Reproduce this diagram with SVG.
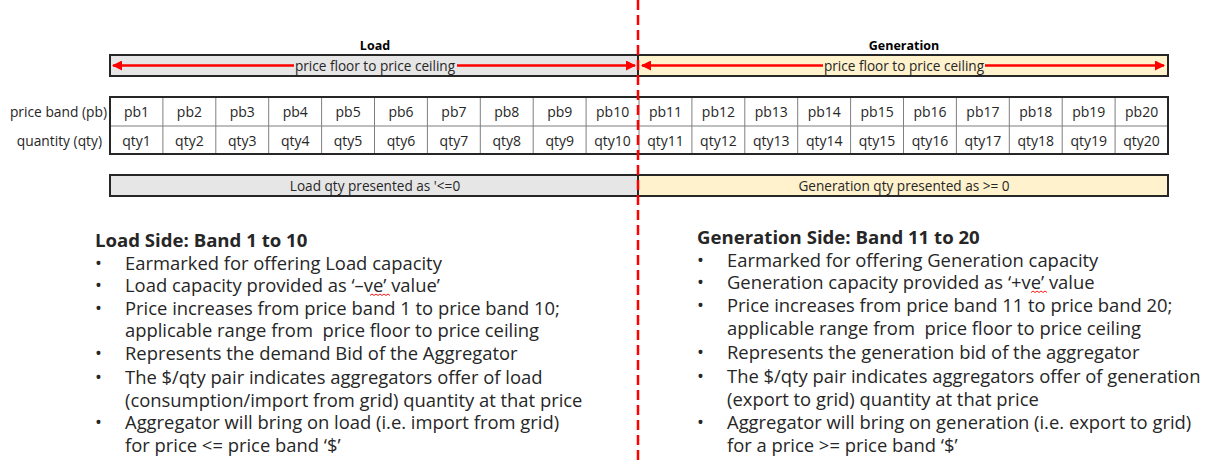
<svg xmlns="http://www.w3.org/2000/svg" width="1210" height="463" viewBox="0 0 1210 463">
<style>
text{font-family:"Open Sans","Noto Sans","DejaVu Sans",sans-serif;fill:#262626;white-space:pre}
.ttl{font-size:12.5px;font-weight:bold;text-anchor:middle;fill:#000}
.cell{font-size:14px;text-anchor:middle}
.rowl{font-size:13.8px;text-anchor:end}
.barl{font-size:13.6px;text-anchor:middle}
.bar{stroke:#262626;stroke-width:2}
.load{fill:#e7e6e6}
.gen{fill:#fff2cc}
.arr{stroke:#ff0000;stroke-width:2.5;fill:none}
.grid{stroke:#7f7f7f;stroke-width:1}
.hd{font-size:18.6px;font-weight:bold}
.bt{font-size:18.4px}
.sq{stroke:#ff0000;stroke-width:0.9;fill:none}
</style>
<defs>
<marker id="ah" viewBox="0 0 10 10" refX="9" refY="5" markerWidth="4" markerHeight="4" orient="auto-start-reverse">
<path d="M0,0 L10,5 L0,10 z" fill="#ff0000"/>
</marker>
</defs>

<g id="load-header">
<text class="ttl" x="375" y="50">Load</text>
<rect class="bar load" x="110" y="55" width="528" height="21"/>
<text class="barl" x="375" y="70.5">price floor to price ceiling</text>
</g>
<g id="gen-header">
<text class="ttl" x="904" y="50">Generation</text>
<rect class="bar gen" x="638" y="55" width="530" height="21"/>
<text class="barl" x="904" y="70.5">price floor to price ceiling</text>
</g>

<g id="connectors">
<line class="arr" x1="294" y1="65.5" x2="113" y2="65.5" marker-end="url(#ah)"/>
<line class="arr" x1="457" y1="65.5" x2="635" y2="65.5" marker-end="url(#ah)"/>
<line class="arr" x1="823" y1="65.5" x2="642" y2="65.5" marker-end="url(#ah)"/>
<line class="arr" x1="985" y1="65.5" x2="1164" y2="65.5" marker-end="url(#ah)"/>
</g>

<g id="row-labels">
<text class="rowl" x="107" y="117">price band (pb)</text>
<text class="rowl" x="102" y="146">quantity (qty)</text>
</g>

<g id="table">
<rect x="110" y="97" width="1058" height="57" fill="#fff"/>
<g class="grid">
<line x1="110" y1="126" x2="1168" y2="126"/>
<line x1="162.9" y1="97" x2="162.9" y2="154"/>
<line x1="215.8" y1="97" x2="215.8" y2="154"/>
<line x1="268.7" y1="97" x2="268.7" y2="154"/>
<line x1="321.6" y1="97" x2="321.6" y2="154"/>
<line x1="374.5" y1="97" x2="374.5" y2="154"/>
<line x1="427.4" y1="97" x2="427.4" y2="154"/>
<line x1="480.3" y1="97" x2="480.3" y2="154"/>
<line x1="533.2" y1="97" x2="533.2" y2="154"/>
<line x1="586.1" y1="97" x2="586.1" y2="154"/>
<line x1="639" y1="97" x2="639" y2="154"/>
<line x1="691.9" y1="97" x2="691.9" y2="154"/>
<line x1="744.8" y1="97" x2="744.8" y2="154"/>
<line x1="797.7" y1="97" x2="797.7" y2="154"/>
<line x1="850.6" y1="97" x2="850.6" y2="154"/>
<line x1="903.5" y1="97" x2="903.5" y2="154"/>
<line x1="956.4" y1="97" x2="956.4" y2="154"/>
<line x1="1009.3" y1="97" x2="1009.3" y2="154"/>
<line x1="1062.2" y1="97" x2="1062.2" y2="154"/>
<line x1="1115.1" y1="97" x2="1115.1" y2="154"/>
</g>
<rect x="110" y="97" width="1058" height="57" fill="none" stroke="#262626" stroke-width="2"/>
<g class="cell">
<text x="136.5" y="117">pb1</text><text x="189.4" y="117">pb2</text><text x="242.3" y="117">pb3</text><text x="295.2" y="117">pb4</text><text x="348.1" y="117">pb5</text><text x="401" y="117">pb6</text><text x="453.9" y="117">pb7</text><text x="506.8" y="117">pb8</text><text x="559.7" y="117">pb9</text><text x="612.6" y="117">pb10</text>
<text x="665.5" y="117">pb11</text><text x="718.4" y="117">pb12</text><text x="771.3" y="117">pb13</text><text x="824.2" y="117">pb14</text><text x="877.1" y="117">pb15</text><text x="930" y="117">pb16</text><text x="982.9" y="117">pb17</text><text x="1035.8" y="117">pb18</text><text x="1088.7" y="117">pb19</text><text x="1141.6" y="117">pb20</text>
<text x="136.5" y="146">qty1</text><text x="189.4" y="146">qty2</text><text x="242.3" y="146">qty3</text><text x="295.2" y="146">qty4</text><text x="348.1" y="146">qty5</text><text x="401" y="146">qty6</text><text x="453.9" y="146">qty7</text><text x="506.8" y="146">qty8</text><text x="559.7" y="146">qty9</text><text x="612.6" y="146">qty10</text>
<text x="665.5" y="146">qty11</text><text x="718.4" y="146">qty12</text><text x="771.3" y="146">qty13</text><text x="824.2" y="146">qty14</text><text x="877.1" y="146">qty15</text><text x="930" y="146">qty16</text><text x="982.9" y="146">qty17</text><text x="1035.8" y="146">qty18</text><text x="1088.7" y="146">qty19</text><text x="1141.6" y="146">qty20</text>
</g>
</g>

<g id="load-qty">
<rect class="bar load" x="110" y="175" width="528" height="21"/>
<text class="barl" x="375" y="190.5">Load qty presented as '&lt;=0</text>
</g>
<g id="gen-qty">
<rect class="bar gen" x="638" y="175" width="530" height="21"/>
<text class="barl" x="904" y="190.5">Generation qty presented as &gt;= 0</text>
</g>

<g id="load-notes">
<text class="hd" x="95" y="246.5">Load Side: Band 1 to 10</text>
<text class="bt"><tspan x="95" y="269.5">•</tspan><tspan x="125" y="269.5">Earmarked for offering Load capacity</tspan></text>
<text class="bt"><tspan x="95" y="292">•</tspan><tspan x="125" y="292">Load capacity provided as ‘–ve’ value’</tspan></text>
<text class="bt"><tspan x="95" y="314.5">•</tspan><tspan x="125" y="314.5">Price increases from price band 1 to price band 10;</tspan><tspan x="125" y="337">applicable range from  price floor to price ceiling</tspan></text>
<text class="bt"><tspan x="95" y="359.5">•</tspan><tspan x="125" y="359.5">Represents the demand Bid of the Aggregator</tspan></text>
<text class="bt"><tspan x="95" y="384">•</tspan><tspan x="125" y="384">The $/qty pair indicates aggregators offer of load</tspan><tspan x="125" y="406.5">(consumption/import from grid) quantity at that price</tspan></text>
<text class="bt"><tspan x="95" y="429">•</tspan><tspan x="125" y="429">Aggregator will bring on load (i.e. import from grid)</tspan><tspan x="125" y="451.5">for price &lt;= price band ‘$’</tspan></text>
<path class="sq" d="M370,295.5 l2,-1.5 l2,1.5 l2,-1.5 l2,1.5 l2,-1.5 l2,1.5 l2,-1.5 l2,1.5 l2,-1.5 l2,1.5"/>
</g>

<g id="gen-notes">
<text class="hd" x="697" y="243.5">Generation Side: Band 11 to 20</text>
<text class="bt"><tspan x="697" y="266.5">•</tspan><tspan x="727" y="266.5">Earmarked for offering Generation capacity</tspan></text>
<text class="bt"><tspan x="697" y="289">•</tspan><tspan x="727" y="289">Generation capacity provided as ‘+ve’ value</tspan></text>
<text class="bt"><tspan x="697" y="312">•</tspan><tspan x="727" y="312">Price increases from price band 11 to price band 20;</tspan><tspan x="727" y="335">applicable range from  price floor to price ceiling</tspan></text>
<text class="bt"><tspan x="697" y="359">•</tspan><tspan x="727" y="359">Represents the generation bid of the aggregator</tspan></text>
<text class="bt"><tspan x="697" y="383">•</tspan><tspan x="727" y="383">The $/qty pair indicates aggregators offer of generation</tspan><tspan x="727" y="405.5">(export to grid) quantity at that price</tspan></text>
<text class="bt"><tspan x="697" y="429">•</tspan><tspan x="727" y="429">Aggregator will bring on generation (i.e. export to grid)</tspan><tspan x="727" y="451.5">for a price &gt;= price band ‘$’</tspan></text>
<path class="sq" d="M1031,292.5 l2,-1.5 l2,1.5 l2,-1.5 l2,1.5 l2,-1.5 l2,1.5 l2,-1.5 l2,1.5"/>
</g>

<g id="divider">
<line x1="638" y1="0" x2="638" y2="463" stroke="#ff0000" stroke-width="2.5" stroke-dasharray="10,5"/>
</g>
</svg>
